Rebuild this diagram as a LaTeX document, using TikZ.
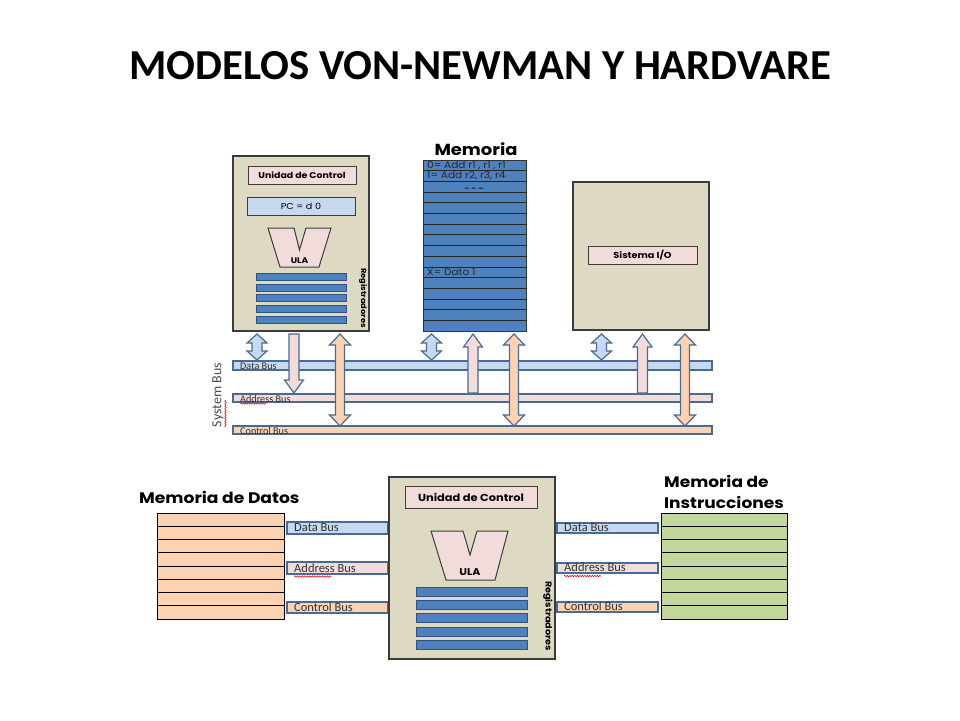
\documentclass[tikz,border=0pt]{standalone}
\usepackage{fontspec}
\setmainfont{Carlito}
\newfontfamily\gothic[FakeStretch=1.12]{Poppins}
\usetikzlibrary{decorations.pathmorphing}
\definecolor{tanbg}{HTML}{DDD9C3}
\definecolor{pinkbg}{HTML}{F2DCDB}
\definecolor{lblue}{HTML}{C6D9F1}
\definecolor{memblue}{HTML}{4F81BD}
\definecolor{regedge}{HTML}{2F5283}
\definecolor{busedge}{HTML}{4A6A94}
\definecolor{orangebg}{HTML}{FBD3B3}
\definecolor{greenbg}{HTML}{C3D69B}
\definecolor{boxedge}{HTML}{3C3C3C}
\tikzset{
  unitbox/.style={draw=boxedge, line width=1.4pt, fill=tanbg},
  innerbox/.style={draw=boxedge, line width=1pt, inner sep=0pt},
  bar/.style={draw=busedge, line width=1.6pt},
  arrowline/.style={draw=busedge, line width=1.2pt, line join=miter},
  regbar/.style={draw=regedge, line width=0.8pt, fill=memblue},
  buslabel/.style={anchor=west, inner sep=0pt, text=black!80},
  gtext/.style={font=\gothic\bfseries, inner sep=0pt},
  memtext/.style={anchor=west, inner sep=0pt, text=black!85, font=\gothic\fontsize{9.4}{10}\selectfont},
  squiggle/.style={draw=red!85!black, line width=0.5pt, decorate, decoration={snake, amplitude=0.7pt, segment length=2.5pt}},
}
\newcommand\vdbl[7]{\draw[arrowline,fill=#7] (#1,#2) -- ({#1+#4},{#2+#6}) -- ({#1+#5},{#2+#6}) -- ({#1+#5},{#3-#6}) -- ({#1+#4},{#3-#6}) -- (#1,#3) -- ({#1-#4},{#3-#6}) -- ({#1-#5},{#3-#6}) -- ({#1-#5},{#2+#6}) -- ({#1-#4},{#2+#6}) -- cycle;}
\newcommand\vdown[7]{\draw[arrowline,fill=#7] ({#1-#5},#2) -- ({#1+#5},#2) -- ({#1+#5},{#3-#6}) -- ({#1+#4},{#3-#6}) -- (#1,#3) -- ({#1-#4},{#3-#6}) -- ({#1-#5},{#3-#6}) -- cycle;}
\newcommand\vup[7]{\draw[arrowline,fill=#7] (#1,#2) -- ({#1+#4},{#2+#6}) -- ({#1+#5},{#2+#6}) -- ({#1+#5},#3) -- ({#1-#5},#3) -- ({#1-#5},{#2+#6}) -- ({#1-#4},{#2+#6}) -- cycle;}
\begin{document}
\begin{tikzpicture}[x=1pt,y=-1pt]
\useasboundingbox[fill=white] (0,0) rectangle (960,720);

% title
\node[font=\bfseries\fontsize{42.7}{46}\selectfont, inner sep=0pt] (title) at (480,66) {MODELOS VON-NEWMAN Y HARDVARE};

% ---------- top: CPU ----------
\node[unitbox, minimum width=136, minimum height=175, inner sep=0pt] (cpuA) at (301,243.5) {};
\node[innerbox, fill=pinkbg, minimum width=108, minimum height=18, font=\gothic\bfseries\fontsize{8.4}{9}\selectfont] (ucA) at (302,175) {Unidad de Control};
\node[innerbox, fill=lblue, minimum width=108, minimum height=18, font=\gothic\fontsize{8.6}{9}\selectfont] (pcA) at (301,206) {PC = d 0};
\draw[draw=boxedge, line width=1pt, fill=pinkbg, line join=miter] (268,228) -- (294,228) -- (299.5,250) -- (306,228) -- (331,228) -- (319,267) -- (280,267) -- cycle;
\node[gtext, font=\gothic\bfseries\fontsize{8.1}{9}\selectfont] (ulaA) at (299.5,261) {ULA};
\foreach \t in {273,284,294,305,316} \draw[regbar] (256,\t) rectangle (346,\t+7);
\node[gtext, rotate=-90, font=\gothic\bfseries\fontsize{7.4}{8}\selectfont] (regA) at (363,298) {Registradores};

% ---------- top: memory ----------
\node[gtext, font=\gothic\bfseries\fontsize{16}{17}\selectfont] (memT) at (476,149.5) {Memoria};
\node[draw=black!80, line width=1pt, fill=memblue, minimum width=103, minimum height=171, inner sep=0pt] (memA) at (474.5,245.5) {};
\foreach \i in {1,...,15} \draw[black!85, line width=0.7pt] (423,{160+\i*10.6875}) -- (526,{160+\i*10.6875});
\node[memtext] (m0) at (427,166) {0= Add r1 , r1 , r1};
\node[memtext] (m1) at (427,176) {1= Add r2, r3, r4};
\node[inner sep=0pt, text=black!85, font=\gothic\bfseries\fontsize{8}{9}\selectfont] (m2) at (474,189.5) {- - -};
\node[memtext] (mx) at (427,272) {X= Dato 1};

% ---------- top: I/O ----------
\node[unitbox, minimum width=136, minimum height=148, inner sep=0pt] (ioA) at (641,256) {};
\node[innerbox, fill=pinkbg, minimum width=109, minimum height=17.5, font=\gothic\bfseries\fontsize{8.7}{9}\selectfont] (sioA) at (642.5,255.5) {Sistema I/O};

% ---------- top: buses ----------
\node[bar, fill=lblue, minimum width=479, minimum height=9.5, inner sep=0pt] (dataA) at (472.5,365.5) {};
\node[bar, fill=pinkbg, minimum width=479, minimum height=8.5, inner sep=0pt] (addrA) at (472.5,398) {};
\node[bar, fill=orangebg, minimum width=479, minimum height=8.5, inner sep=0pt] (ctrlA) at (472.5,430) {};
\node[buslabel, font=\fontsize{10.2}{11}\selectfont] (ldA) at (240,366) {Data Bus};
\node[buslabel, font=\fontsize{10.2}{11}\selectfont] (laA) at (240,398.5) {Address Bus};
\node[buslabel, font=\fontsize{10.2}{11}\selectfont] (lcA) at (240,431) {Control Bus};
\draw[squiggle] (240,403.5) -- (266,403.5);
\node[rotate=90, inner sep=0pt, text=black!70, font=\fontsize{14}{15}\selectfont] (sysbus) at (218,395) {System Bus};
\draw[squiggle] (225.5,427) -- (225.5,400);

% arrows CPU
\vdbl{257}{334}{360}{10}{5}{9}{lblue}
\vdown{294}{334}{393}{9.5}{5}{13}{pinkbg}
\vdbl{340}{334}{426}{10.5}{4.5}{11}{orangebg}
% arrows memory
\vdbl{431.5}{334}{360}{10}{5}{9}{lblue}
\vup{473}{334}{393}{9.5}{5}{13}{pinkbg}
\vdbl{514}{334}{426}{10.5}{4.5}{11}{orangebg}
% arrows I/O
\vdbl{601.5}{334}{360}{10}{5}{9}{lblue}
\vup{642.5}{334}{393}{9.5}{5}{13}{pinkbg}
\vdbl{685}{334}{426}{10.5}{4.5}{11}{orangebg}

% ---------- bottom: data memory ----------
\node[gtext, anchor=west, font=\gothic\bfseries\fontsize{15.3}{16}\selectfont] (dmT) at (139,497) {Memoria de Datos};
\node[draw=black, line width=1pt, fill=orangebg, minimum width=127, minimum height=106, inner sep=0pt] (dmem) at (220.5,566) {};
\foreach \i in {1,...,7} \draw[black, line width=0.8pt] (157,{513+\i*13.25}) -- (284,{513+\i*13.25});

\node[bar, fill=lblue, minimum width=101, minimum height=12, inner sep=0pt] (dataL) at (337.5,528) {};
\node[bar, fill=pinkbg, minimum width=101, minimum height=12, inner sep=0pt] (addrL) at (337.5,568) {};
\node[bar, fill=orangebg, minimum width=101, minimum height=11.5, inner sep=0pt] (ctrlL) at (337.5,607.5) {};
\node[buslabel, font=\fontsize{12.5}{13}\selectfont] (ldL) at (294,528) {Data Bus};
\node[buslabel, font=\fontsize{12.5}{13}\selectfont] (laL) at (294,568) {Address Bus};
\node[buslabel, font=\fontsize{12.5}{13}\selectfont] (lcL) at (294,607.5) {Control Bus};
\draw[squiggle] (294,576.5) -- (331,576.5);

% ---------- bottom: CPU ----------
\node[unitbox, minimum width=166, minimum height=182, inner sep=0pt] (cpuB) at (472,568) {};
\node[innerbox, fill=pinkbg, minimum width=132, minimum height=22, font=\gothic\bfseries\fontsize{10.2}{11}\selectfont] (ucB) at (471,497) {Unidad de Control};
\draw[draw=boxedge, line width=1pt, fill=pinkbg, line join=miter] (431,531) -- (463,531) -- (470,555) -- (477,531) -- (508,531) -- (495,580) -- (446,580) -- cycle;
\node[gtext, font=\gothic\bfseries\fontsize{9.8}{10}\selectfont] (ulaB) at (470,572) {ULA};
\foreach \t in {587,600,613,627,640} \draw[regbar] (416,\t) rectangle (527,\t+9);
\node[gtext, rotate=-90, font=\gothic\bfseries\fontsize{8.6}{9}\selectfont] (regB) at (548,616) {Registradores};

% ---------- bottom: right buses ----------
\node[bar, fill=lblue, minimum width=101, minimum height=10.5, inner sep=0pt] (dataR) at (607.5,528) {};
\node[bar, fill=pinkbg, minimum width=101, minimum height=10.5, inner sep=0pt] (addrR) at (607.5,568) {};
\node[bar, fill=orangebg, minimum width=101, minimum height=10.5, inner sep=0pt] (ctrlR) at (607.5,607) {};
\node[buslabel, font=\fontsize{12.5}{13}\selectfont] (ldR) at (564,527.5) {Data Bus};
\node[buslabel, font=\fontsize{12.5}{13}\selectfont] (laR) at (564,567.5) {Address Bus};
\node[buslabel, font=\fontsize{12.5}{13}\selectfont] (lcR) at (564,606.5) {Control Bus};
\draw[squiggle] (564,576) -- (601,576);

% ---------- bottom: instruction memory ----------
\node[gtext, anchor=west, font=\gothic\bfseries\fontsize{15.2}{16}\selectfont] (imT1) at (664,481) {Memoria de};
\node[gtext, anchor=west, font=\gothic\bfseries\fontsize{15.2}{16}\selectfont] (imT2) at (664,502) {Instrucciones};
\node[draw=black, line width=1pt, fill=greenbg, minimum width=126, minimum height=106, inner sep=0pt] (imem) at (724,566) {};
\foreach \i in {1,...,7} \draw[black, line width=0.8pt] (661,{513+\i*13.25}) -- (787,{513+\i*13.25});
\end{tikzpicture}
\end{document}
